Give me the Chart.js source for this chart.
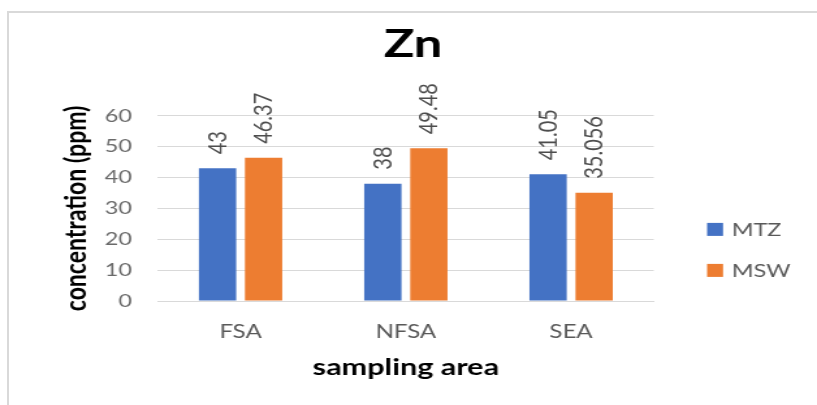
<!DOCTYPE html>
<html>
<head>
<meta charset="utf-8">
<script src="https://cdn.jsdelivr.net/npm/chart.js@4/dist/chart.umd.min.js"></script>
<style>
  html, body { margin: 0; padding: 0; background: #ffffff; }
  body { width: 817px; height: 405px; position: relative; overflow: hidden; }
  #frame {
    position: absolute; left: 7px; top: 11px; width: 820px; height: 400px;
    border-left: 2px solid #d9d9d9; border-top: 2px solid #d9d9d9;
  }
  #chart {
    position: absolute; left: 0; top: 0;
    transform: scaleX(1.30096); transform-origin: 0 0;
  }
</style>
</head>
<body>
<div id="frame"></div>
<canvas id="chart" width="628" height="405"></canvas>
<script>
// Zn concentration by sampling area
const categories = ['FSA', 'NFSA', 'SEA'];
const seriesNames = ['MTZ', 'MSW'];
const mtzValues = [43, 38, 41.05];
const mswValues = [46.37, 49.48, 35.056];
const seriesColors = ['#4472C4', '#ED7D31'];
const yTickValues = [0, 10, 20, 30, 40, 50, 60];

const FONT = 'Lato';

// Rotated value labels above each bar
const valueLabels = {
  id: 'valueLabels',
  afterDatasetsDraw(chart) {
    const ctx = chart.ctx;
    chart.data.datasets.forEach((ds, i) => {
      const meta = chart.getDatasetMeta(i);
      meta.data.forEach((bar, j) => {
        ctx.save();
        ctx.translate(bar.x, bar.y - 14);
        ctx.rotate(-Math.PI / 2);
        ctx.font = `20px ${FONT}`;
        ctx.fillStyle = '#4d4d4d';
        ctx.textAlign = 'left';
        ctx.textBaseline = 'middle';
        ctx.fillText(String(ds.data[j]), 0, 0);
        ctx.restore();
      });
    });
  }
};

// Legend in the space to the right of the plot
const sideLegend = {
  id: 'sideLegend',
  afterDraw(chart) {
    const ctx = chart.ctx;
    const area = chart.chartArea;
    const mid = (area.top + area.bottom) / 2 + 41.5;
    const x0 = area.right + 41;
    const step = 41;
    const n = chart.data.datasets.length;
    chart.data.datasets.forEach((ds, k) => {
      const cy = mid + (k - (n - 1) / 2) * step;
      ctx.save();
      ctx.fillStyle = ds.backgroundColor;
      ctx.fillRect(x0, cy - 6.5, 12.3, 13);
      ctx.font = `18px ${FONT}`;
      ctx.fillStyle = '#595959';
      ctx.textAlign = 'left';
      ctx.textBaseline = 'middle';
      ctx.fillText(ds.label, x0 + 19, cy + 1);
      ctx.restore();
    });
  }
};

new Chart(document.getElementById('chart'), {
  type: 'bar',
  data: {
    labels: categories,
    datasets: [
      { label: seriesNames[0], data: mtzValues, backgroundColor: seriesColors[0] },
      { label: seriesNames[1], data: mswValues, backgroundColor: seriesColors[1] }
    ]
  },
  options: {
    responsive: false,
    animation: false,
    events: [],
    layout: { padding: { left: 7, right: 0, top: 0, bottom: 0 } },
    datasets: {
      bar: { categoryPercentage: 0.557, barPercentage: 0.81 }
    },
    plugins: {
      legend: { display: false },
      tooltip: { enabled: false },
      title: {
        display: true,
        text: 'Zn',
        color: '#000000',
        font: { family: FONT, size: 39, weight: 'bold', lineHeight: 1.2 },
        padding: { top: 21, bottom: 48 }
      }
    },
    scales: {
      x: {
        grid: { display: false, drawTicks: false },
        border: { display: true, color: '#d9d9d9', width: 1 },
        ticks: { color: '#595959', font: { family: FONT, size: 18.5 }, padding: 20 },
        title: {
          display: true,
          text: 'sampling area',
          color: '#000000',
          font: { family: FONT, size: 23.5, weight: 'bold', lineHeight: 1.2 },
          padding: { top: 0, bottom: 23.9 }
        },
        afterFit(scale) { scale.height = 104; }
      },
      y: {
        min: 0,
        max: 60,
        afterBuildTicks(scale) { scale.ticks = yTickValues.map(v => ({ value: v })); },
        grid: { color: '#d9d9d9', lineWidth: 1, drawTicks: false },
        border: { display: false },
        ticks: { color: '#6a6a6a', font: { family: FONT, size: 18 }, padding: 20 },
        title: {
          display: true,
          text: 'concentration (ppm)',
          color: '#000000',
          font: { family: FONT, size: 23, weight: 'bold', lineHeight: 1.2 },
          padding: { top: 37.6, bottom: 0 }
        },
        afterFit(scale) { scale.width = 114.4; }
      },
      // empty right-hand axis that keeps room for the legend
      legendSpace: {
        type: 'linear',
        position: 'right',
        display: true,
        grid: { display: false, drawTicks: false },
        border: { display: false },
        ticks: { display: false },
        afterFit(scale) { scale.width = 125.5; }
      }
    }
  },
  plugins: [valueLabels, sideLegend]
});
</script>
</body>
</html>
